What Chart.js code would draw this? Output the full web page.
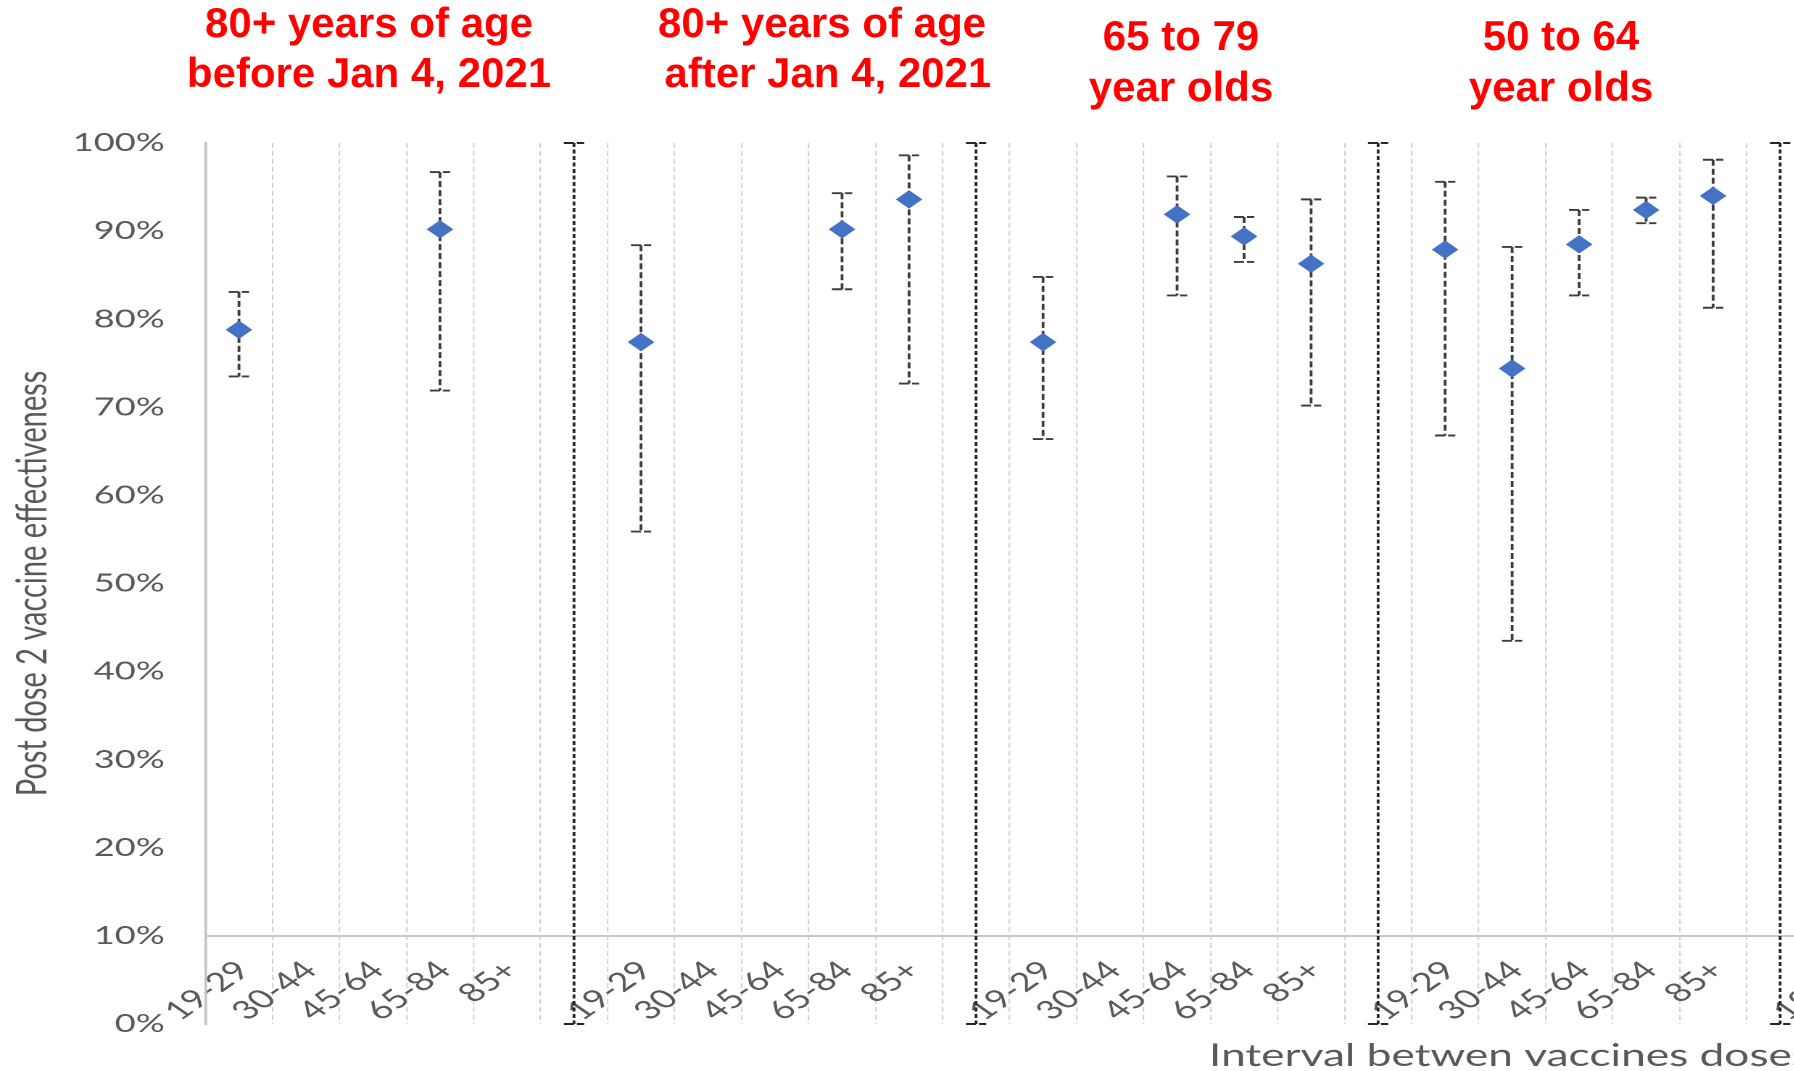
<!DOCTYPE html>
<html>
<head>
<meta charset="utf-8">
<script src="https://cdn.jsdelivr.net/npm/chart.js@4.4.0/dist/chart.umd.min.js"></script>
<style>
  html, body { margin: 0; padding: 0; background: #ffffff; overflow: hidden; width: 1794px; height: 1071px; }
  #wrap { position: absolute; left: 0; top: 0; width: 1297px; height: 1071px; transform: scaleX(1.45); transform-origin: 0 0; }
</style>
</head>
<body>
<div id="wrap"><canvas id="c"></canvas></div>
<script>
// ---------- data ----------
const ageBands = ['19-29', '30-44', '45-64', '65-84', '85+'];
const groupTitles = [
  ['80+ years of age', 'before Jan 4, 2021'],
  ['80+ years of age', ' after Jan 4, 2021'],
  ['65 to 79', 'year olds'],
  ['50 to 64', 'year olds']
];
const yTitle = 'Post dose 2 vaccine effectiveness';
const xTitle = 'Interval betwen vaccines doses';

// vaccine effectiveness (%) by interval band, with lower / upper CI
const ve80Before     = [78.8, null, null, 90.2, null];
const ve80BeforeLow  = [73.5, null, null, 71.9, null];
const ve80BeforeHigh = [83.1, null, null, 96.7, null];

const ve80After      = [77.4, null, null, 90.2, 93.6];
const ve80AfterLow   = [55.9, null, null, 83.4, 72.7];
const ve80AfterHigh  = [88.4, null, null, 94.3, 98.6];

const ve65to79       = [77.4, null, 91.9, 89.4, 86.3];
const ve65to79Low    = [66.4, null, 82.7, 86.5, 70.2];
const ve65to79High   = [84.8, null, 96.2, 91.6, 93.6];

const ve50to64       = [87.9, 74.4, 88.5, 92.4, 94.0];
const ve50to64Low    = [66.8, 43.5, 82.7, 90.9, 81.3];
const ve50to64High   = [95.6, 88.2, 92.4, 93.8, 98.1];

const separatorLow = 0;
const separatorHigh = 100;
const yMin = 0, yMax = 100, yStep = 10;

// ---------- build category table ----------
const groupVals  = [ve80Before, ve80After, ve65to79, ve50to64];
const groupLows  = [ve80BeforeLow, ve80AfterLow, ve65to79Low, ve50to64Low];
const groupHighs = [ve80BeforeHigh, ve80AfterHigh, ve65to79High, ve50to64High];

const labels = [], values = [], lows = [], highs = [];
groupVals.forEach((g, gi) => {
  ageBands.forEach((a, i) => {
    labels.push(a); values.push(g[i]); lows.push(groupLows[gi][i]); highs.push(groupHighs[gi][i]);
  });
  labels.push(''); values.push(null); lows.push(null); highs.push(null);
});
// start of the next (cropped) panel
labels.push(ageBands[0]); values.push(null); lows.push(null); highs.push(null);

// ---------- styling / layout ----------
const STRETCH = 1.45;
const headingLayout = [
  { x: 369, y: [37, 87] },
  { x: 822, y: [37, 87] },
  { x: 1181, y: [50, 101] },
  { x: 1561, y: [50, 101] }
];

const errorBarPlugin = {
  id: 'errorBars',
  beforeDatasetsDraw(chart) {
    const { ctx, scales: { x, y } } = chart;
    const cap = 7;
    function bar(px, yLo, yHi, color, lw, dash) {
      ctx.strokeStyle = color;
      ctx.lineWidth = lw;
      ctx.setLineDash(dash);
      ctx.beginPath();
      ctx.moveTo(px, yHi); ctx.lineTo(px, yLo);
      ctx.stroke();
      ctx.setLineDash([7, 2]);
      ctx.beginPath();
      ctx.moveTo(px - cap, yHi); ctx.lineTo(px + cap, yHi);
      ctx.moveTo(px - cap, yLo); ctx.lineTo(px + cap, yLo);
      ctx.stroke();
    }
    ctx.save();
    labels.forEach((l, i) => {
      if (l === '') {
        bar(x.getPixelForValue(i), y.getPixelForValue(separatorLow), y.getPixelForValue(separatorHigh), '#262626', 1.9, [4, 2.5]);
      }
    });
    values.forEach((v, i) => {
      if (v != null && lows[i] != null) {
        bar(x.getPixelForValue(i), y.getPixelForValue(lows[i]), y.getPixelForValue(highs[i]), '#3c3c3c', 1.9, [6, 3]);
      }
    });
    ctx.restore();
  }
};

const textPlugin = {
  id: 'texts',
  afterDraw(chart) {
    const { ctx } = chart;
    ctx.save();
    ctx.scale(1 / STRETCH, 1);
    ctx.font = 'bold 42px "Liberation Sans", Arial, sans-serif';
    ctx.fillStyle = '#ff0000';
    ctx.textAlign = 'center';
    ctx.textBaseline = 'alphabetic';
    groupTitles.forEach((lines, g) => {
      lines.forEach((line, k) => ctx.fillText(line, headingLayout[g].x, headingLayout[g].y[k]));
    });
    ctx.restore();
    ctx.save();
    ctx.font = '30.5px Lato, "Open Sans", sans-serif';
    ctx.fillStyle = '#595959';
    ctx.textAlign = 'left';
    ctx.textBaseline = 'alphabetic';
    ctx.fillText(xTitle, 1209 / STRETCH, 1066);
    ctx.restore();
  }
};

new Chart(document.getElementById('c'), {
  type: 'line',
  data: {
    labels: labels,
    datasets: [{
      data: values,
      showLine: false,
      pointStyle: 'rectRot',
      pointRadius: 8.5,
      pointBackgroundColor: '#4472C4',
      pointBorderColor: '#4472C4',
      pointBorderWidth: 1
    }]
  },
  options: {
    responsive: true,
    maintainAspectRatio: false,
    animation: false,
    devicePixelRatio: 2,
    events: [],
    layout: { autoPadding: false, padding: { top: 143, left: 0, right: 0, bottom: 0 } },
    plugins: { legend: { display: false }, tooltip: { enabled: false } },
    scales: {
      x: {
        type: 'category',
        offset: true,
        grid: { offset: true, drawTicks: false, color: '#d3d3d3', lineWidth: 1.1 },
        border: { display: false, dash: [5, 3] },
        ticks: {
          autoSkip: false, minRotation: 45, maxRotation: 45, padding: -69, labelOffset: 3,
          color: '#595959', font: { family: 'Lato', size: 26 }
        },
        afterFit: s => {
          s.height = 47; s.paddingLeft = 0; s.paddingRight = 0;
          s._computeLabelArea = () => undefined;   // let the labels overlap the 0-10% band
        }
      },
      y: {
        min: yMin, max: yMax,
        ticks: {
          stepSize: yStep, padding: 28, color: '#595959',
          font: { family: 'Lato', size: 25 },
          callback: v => v + '%'
        },
        grid: {
          drawTicks: false,
          color: c => (c.tick && c.tick.value === 10) ? '#c8c8c8' : 'rgba(0,0,0,0)',
          lineWidth: 2
        },
        border: { display: true, color: '#c4c4c4', width: 1.8 },
        title: {
          display: true, text: yTitle, color: '#595959',
          font: { family: 'Lato', size: 29 }, padding: { top: 5, bottom: 0 }
        },
        afterFit: s => { s.width = 141.7; s.paddingTop = 0; s.paddingBottom = 0; }
      }
    }
  },
  plugins: [errorBarPlugin, textPlugin]
});
</script>
</body>
</html>
